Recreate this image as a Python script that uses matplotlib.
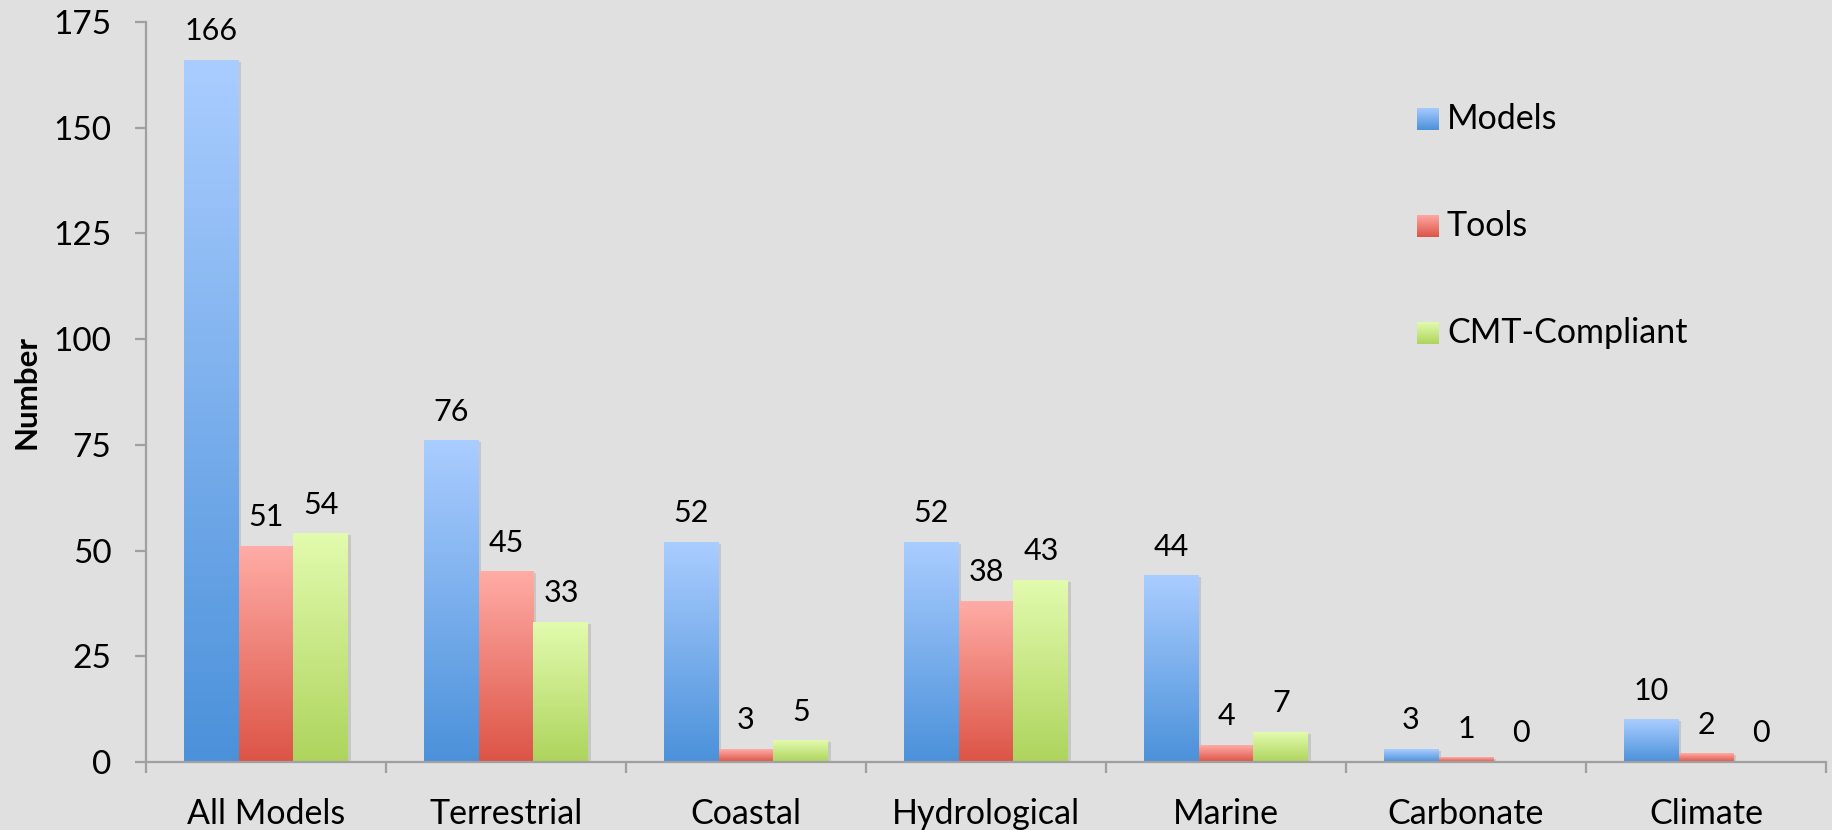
# -*- coding:utf-8 -*-
"""Number of models, tools and CMT-compliant components by category"""
import matplotlib
matplotlib.use("Agg")
import matplotlib.pyplot as plt
import numpy as np
from matplotlib.colors import LinearSegmentedColormap
from matplotlib.patches import Rectangle
from matplotlib.transforms import offset_copy

categories = ["All Models", "Terrestrial", "Coastal", "Hydrological",
              "Marine", "Carbonate", "Climate"]
models = [166, 76, 52, 52, 44, 3, 10]
tools = [51, 45, 3, 38, 4, 1, 2]
cmt_compliant = [54, 33, 5, 43, 7, 0, 0]
series_names = ["Models", "Tools", "CMT-Compliant"]
yticks = [0, 25, 50, 75, 100, 125, 150, 175]

# light top -> darker bottom for each series
gradients = [("#aacdff", "#4b91da"),
             ("#ffaca6", "#dc5446"),
             ("#e2fbae", "#aed45d")]

BG = "#e0e0e0"
AXIS = "#a0a0a0"

plt.rcParams["font.family"] = ["Lato", "DejaVu Sans"]

fig = plt.figure(figsize=(18.33, 8.3), dpi=100, facecolor=BG)
W, H = 1833.0, 830.0
ax = fig.add_axes([146 / W, 68 / H, (1826 - 146) / W, (762 - 22) / H])
ax.set_facecolor(BG)

ramp = np.linspace(0, 1, 256).reshape(-1, 1)
n = len(categories)
x = np.arange(n) + 0.5
width = 0.229

# soft drop shadow, a few pixels right of each bar
shadow_tr = offset_copy(ax.transData, fig=fig, x=2.5, y=-1.5, units="dots")

for j, vals in enumerate([models, tools, cmt_compliant]):
    cmap = LinearSegmentedColormap.from_list(series_names[j], gradients[j])
    offs = x + (j - 1) * width
    bars = ax.bar(offs, vals, width, color="none", edgecolor="none", zorder=2)
    for b, v in zip(bars, vals):
        x0 = b.get_x()
        if v > 0:
            ax.add_patch(Rectangle((x0, 0), b.get_width(), v,
                                   transform=shadow_tr, facecolor="#9a9a9a",
                                   alpha=0.35, edgecolor="none", zorder=1.5))
            ax.imshow(ramp, cmap=cmap, aspect="auto", zorder=2,
                      extent=[x0, x0 + b.get_width(), 0, v], origin="upper")
        ax.annotate(str(v), (x0 + b.get_width() / 2, v),
                    xytext=(0, 14.4), textcoords="offset points",
                    ha="center", va="baseline", fontsize=22, color="black")

ax.set_xlim(0, n)
ax.set_ylim(0, 175)

for s in ["top", "right"]:
    ax.spines[s].set_visible(False)
for s in ["left", "bottom"]:
    ax.spines[s].set_color(AXIS)
    ax.spines[s].set_linewidth(1.6)
    ax.spines[s].set_zorder(3)

ax.set_yticks(yticks)
ax.tick_params(axis="y", length=8, width=1.6, color=AXIS,
               labelsize=24, pad=17)
ax.set_xticks(np.arange(n + 1))
ax.set_xticklabels([])
ax.tick_params(axis="x", which="major", length=8, width=1.6, color=AXIS)
ax.set_xticks(x, minor=True)
ax.set_xticklabels(categories, minor=True)
ax.tick_params(axis="x", which="minor", length=0, labelsize=24.5, pad=26)

fig.text(27 / W, 1 - 392 / H, "Number", rotation=90, ha="center",
         va="center", fontsize=22.5, fontweight="bold")

# legend drawn by hand so the swatches keep the gradient
for j, name in enumerate(series_names):
    cy = [119, 226, 333][j]
    sw = fig.add_axes([1417 / W, 1 - (cy + 11) / H, 22 / W, 22 / H])
    cmap = LinearSegmentedColormap.from_list(name, gradients[j])
    sw.imshow(ramp, cmap=cmap, aspect="auto")
    sw.set_axis_off()
    fig.text(1447 / W, 1 - cy / H, name, ha="left", va="center",
             fontsize=24.5)

fig.savefig("out.png", dpi=100, facecolor=BG)
